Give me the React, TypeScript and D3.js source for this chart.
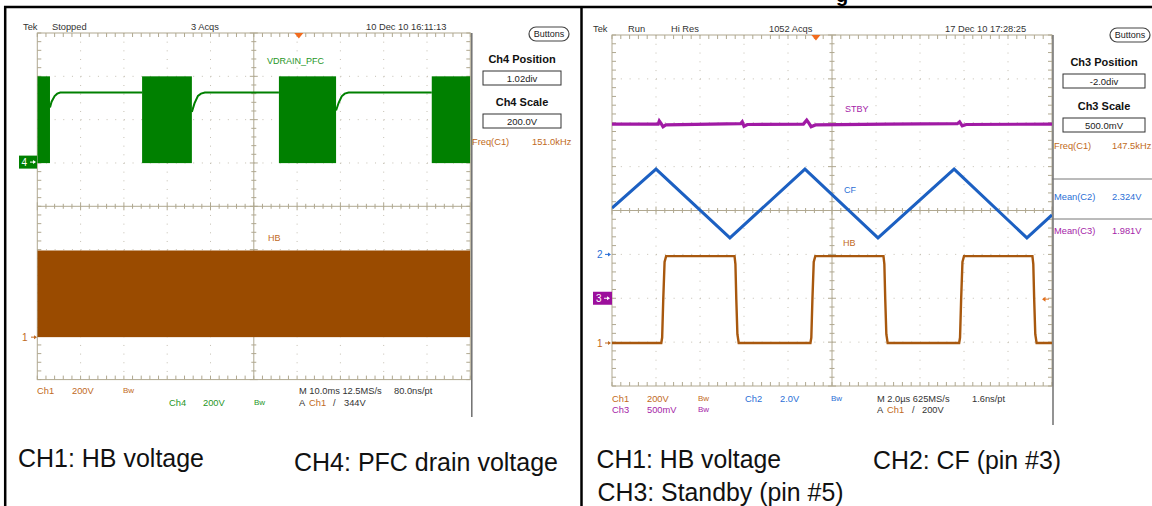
import React from 'react';
import * as d3 from 'd3';

// ---------------- Left scope (10 ms/div) ----------------
const leftTimeDomain: [number, number] = [0, 100]; // ms
const leftTrigTime = 60.4; // ms
const ch4Scale = 200; // V/div
const ch4Pos = 1.02; // div
const ch1ScaleL = 200; // V/div
const ch1PosL = -3.02; // div
// PFC drain switching bursts [start ms, end ms]
const ch4Bursts: [number, number][] = [[0, 2.93], [24.2, 35.7], [55.8, 69.0], [91.1, 100]];
const ch4BurstVolts: [number, number] = [0, 396];
// PFC drain voltage between bursts [ms, V]
const ch4Idle1: [number, number][] = [[2.93, 252], [3.3, 279], [4.0, 305], [4.6, 316], [5.3, 321], [24.2, 321]];
const ch4Idle2: [number, number][] = [[35.7, 232], [36.3, 271], [37.1, 306], [37.8, 316], [38.7, 321], [55.8, 321]];
const ch4Idle3: [number, number][] = [[69.0, 238], [69.6, 274], [70.3, 304], [71.0, 316], [71.9, 321], [91.1, 321]];
// HB voltage envelope (switching fills the band)
const ch1BandTime: [number, number] = [0, 100];
const ch1BandVolts: [number, number] = [0, 400];

// ---------------- Right scope (2 us/div) ----------------
const rightTimeDomain: [number, number] = [0, 20]; // us
const rightTrigTime = 9.27;
const ch1ScaleR = 200, ch1PosR = -3.02;
const ch2Scale = 2.0, ch2Pos = -1.0;
const ch3Scale = 0.5, ch3Pos = -2.0;
const trigLevelR = 200; // V on Ch1
const hbWave: [number, number][] = [
  [0, 0], [2.24, 0], [2.28, 25], [2.33, 200], [2.39, 370], [2.46, 396],
  [5.57, 396], [5.61, 360], [5.65, 200], [5.70, 40], [5.76, 0],
  [9.02, 0], [9.06, 25], [9.11, 200], [9.17, 370], [9.24, 396],
  [12.34, 396], [12.38, 360], [12.42, 200], [12.47, 40], [12.53, 0],
  [15.78, 0], [15.82, 25], [15.87, 200], [15.93, 370], [16.0, 396],
  [19.11, 396], [19.15, 360], [19.19, 200], [19.24, 40], [19.30, 0],
  [20, 0],
];
const cfWave: [number, number][] = [
  [0, 2.11], [2.0, 3.89], [5.36, 0.75], [8.77, 3.89], [12.09, 0.75], [15.55, 3.89], [18.86, 0.75], [20, 1.80],
];
const stbyWave: [number, number][] = [
  [0, 1.985], [2.1, 1.985], [2.15, 2.02], [2.22, 1.995], [2.32, 1.955], [2.45, 1.975], [4.5, 1.985],
  [5.85, 1.99], [5.92, 2.01], [6.0, 1.96], [6.15, 1.98], [8.7, 1.985], [8.85, 2.03], [8.95, 1.995],
  [9.05, 1.955], [9.25, 1.975], [12.5, 1.985], [15.7, 1.99], [15.8, 2.01], [15.92, 1.965], [16.1, 1.98], [20, 1.985],
];

// ---------------- Texts ----------------
const leftHeader = { tek: 'Tek', state: 'Stopped', acqs: '3 Acqs', date: '10 Dec 10 16:11:13' };
const rightHeader = { tek: 'Tek', state: 'Run', mode: 'Hi Res', acqs: '1052 Acqs', date: '17 Dec 10 17:28:25' };
const leftCaptions = ['CH1: HB voltage', 'CH4: PFC drain voltage'];
const rightCaptions = ['CH1: HB voltage', 'CH2: CF (pin #3)', 'CH3: Standby (pin #5)'];

const FONT = "'Liberation Sans', Arial, Helvetica, sans-serif";
const GRID = '#b0a890';
const DOT = '#c4bfb2';
const BROWN_T = '#bf6a22';
const GREEN_T = '#1f961f';
const BLUE_T = '#2a6fd6';
const PURPLE_T = '#a524a8';

type Geo = { x0: number; x1: number; y0: number; y1: number };

function Graticule({ g }: { g: Geo }) {
  const gx = d3.scaleLinear().domain([0, 10]).range([g.x0, g.x1]);
  const gy = d3.scaleLinear().domain([-4, 4]).range([g.y1, g.y0]);
  const cx = gx(5), cy = gy(0);
  const stepX = (g.x1 - g.x0) / 50;
  const stepY = (g.y1 - g.y0) / 40;
  const els: React.ReactNode[] = [];
  d3.range(1, 10).filter((i) => i !== 5).forEach((i) => {
    els.push(<line key={'dv' + i} x1={gx(i)} x2={gx(i)} y1={g.y0} y2={g.y1} stroke={DOT} strokeWidth={1} strokeDasharray={`1 ${stepY - 1}`} />);
  });
  d3.range(-3, 4).filter((j) => j !== 0).forEach((j) => {
    els.push(<line key={'dh' + j} x1={g.x0} x2={g.x1} y1={gy(j)} y2={gy(j)} stroke={DOT} strokeWidth={1} strokeDasharray={`1 ${stepX - 1}`} />);
  });
  d3.range(0, 51).forEach((k) => {
    const x = gx(k / 5);
    const major = k % 5 === 0;
    els.push(<line key={'tt' + k} x1={x} x2={x} y1={g.y0} y2={g.y0 + 4} stroke={GRID} />);
    els.push(<line key={'tb' + k} x1={x} x2={x} y1={g.y1} y2={g.y1 - 4} stroke={GRID} />);
    els.push(<line key={'tc' + k} x1={x} x2={x} y1={cy - (major ? 4 : 2.5)} y2={cy + (major ? 4 : 2.5)} stroke={GRID} />);
  });
  d3.range(0, 41).forEach((k) => {
    const y = gy(-4 + k / 5);
    const major = k % 5 === 0;
    els.push(<line key={'tl' + k} x1={g.x0} x2={g.x0 + 4} y1={y} y2={y} stroke={GRID} />);
    els.push(<line key={'tr' + k} x1={g.x1} x2={g.x1 - 4} y1={y} y2={y} stroke={GRID} />);
    els.push(<line key={'tm' + k} x1={cx - (major ? 4 : 2.5)} x2={cx + (major ? 4 : 2.5)} y1={y} y2={y} stroke={GRID} />);
  });
  els.push(<line key="ch" x1={g.x0} x2={g.x1} y1={cy} y2={cy} stroke={GRID} />);
  els.push(<line key="cv" x1={cx} x2={cx} y1={g.y0} y2={g.y1} stroke={GRID} />);
  els.push(<rect key="bd" x={g.x0} y={g.y0} width={g.x1 - g.x0} height={g.y1 - g.y0} fill="none" stroke={GRID} />);
  return <g>{els}</g>;
}

function T({ x, y, c = '#333', s = 9.5, w, a, children }: any) {
  return (
    <text x={x} y={y} fill={c} fontSize={s} fontWeight={w} textAnchor={a} fontFamily={FONT}>{children}</text>
  );
}

function Arrow({ x, y, c }: { x: number; y: number; c: string }) {
  return (
    <g>
      <line x1={x - 6} x2={x - 1} y1={y} y2={y} stroke={c} strokeWidth={1} />
      <path d={`M${x},${y} L${x - 3},${y - 2} L${x - 3},${y + 2} Z`} fill={c} />
    </g>
  );
}

function SideBox({ cx, y, w, label, value }: { cx: number; y: number; w: number; label: string; value: string }) {
  return (
    <g>
      <T x={cx} y={y} c="#111" s={11} w="bold" a="middle">{label}</T>
      <rect x={cx - w / 2} y={y + 8} width={w} height={14} fill="#fff" stroke="#333" strokeWidth={1} />
      <T x={cx} y={y + 18.5} c="#222" s={9.5} a="middle">{value}</T>
    </g>
  );
}

function Buttons({ x, y }: { x: number; y: number }) {
  return (
    <g>
      <rect x={x} y={y} width={40} height={14} rx={7} fill="#fff" stroke="#444" strokeWidth={1.2} />
      <T x={x + 20} y={y + 10} c="#222" s={9} a="middle">Buttons</T>
    </g>
  );
}

export default function App() {
  // ---------- left geometry ----------
  const GL: Geo = { x0: 37.3, x1: 470.3, y0: 33, y1: 379.6 };
  const xL = d3.scaleLinear().domain(leftTimeDomain).range([GL.x0, GL.x1]);
  const dL = d3.scaleLinear().domain([-4, 4]).range([GL.y1, GL.y0]);
  const yCh4 = (v: number) => dL(v / ch4Scale + ch4Pos);
  const yCh1L = (v: number) => dL(v / ch1ScaleL + ch1PosL);
  const lineL = d3.line<[number, number]>().x((d) => xL(d[0])).y((d) => yCh4(d[1]));

  // ---------- right geometry ----------
  const GR: Geo = { x0: 612, x1: 1052, y0: 35, y1: 386 };
  const xR = d3.scaleLinear().domain(rightTimeDomain).range([GR.x0, GR.x1]);
  const dR = d3.scaleLinear().domain([-4, 4]).range([GR.y1, GR.y0]);
  const yCh1R = (v: number) => dR(v / ch1ScaleR + ch1PosR);
  const yCh2 = (v: number) => dR(v / ch2Scale + ch2Pos);
  const yCh3 = (v: number) => dR(v / ch3Scale + ch3Pos);
  const hbLine = d3.line<[number, number]>().x((d) => xR(d[0])).y((d) => yCh1R(d[1]));
  const cfLine = d3.line<[number, number]>().x((d) => xR(d[0])).y((d) => yCh2(d[1]));
  const stLine = d3.line<[number, number]>().x((d) => xR(d[0])).y((d) => yCh3(d[1]));

  const trigL = xL(leftTrigTime);
  const trigR = xR(rightTrigTime);

  return (
    <svg width={1152} height={506} style={{ position: 'absolute', left: 0, top: 0, background: '#fff' }} fontFamily={FONT}>
      <defs>
        <clipPath id="clipL"><rect x={GL.x0} y={GL.y0} width={GL.x1 - GL.x0} height={GL.y1 - GL.y0} /></clipPath>
        <clipPath id="clipR"><rect x={GR.x0} y={GR.y0} width={GR.x1 - GR.x0} height={GR.y1 - GR.y0} /></clipPath>
      </defs>
      <rect x={0} y={0} width={1152} height={506} fill="#fff" />
      {/* cut-off title (only its descender shows in the reference) */}
      <text x={836} y={2} fontSize={20} fontWeight="bold" fill="#000" fontFamily={FONT}>g</text>

      {/* ================= LEFT SCOPE ================= */}
      <Graticule g={GL} />
      <g clipPath="url(#clipL)">
        <rect x={xL(ch1BandTime[0])} y={yCh1L(ch1BandVolts[1])} width={xL(ch1BandTime[1]) - xL(ch1BandTime[0])}
          height={yCh1L(ch1BandVolts[0]) - yCh1L(ch1BandVolts[1])} fill="#9a4b00" />
        {ch4Bursts.map((b, i) => (
          <rect key={i} x={xL(b[0])} y={yCh4(ch4BurstVolts[1])} width={xL(b[1]) - xL(b[0])}
            height={yCh4(ch4BurstVolts[0]) - yCh4(ch4BurstVolts[1]) + 1} fill="#008000" />
        ))}
        {[ch4Idle1, ch4Idle2, ch4Idle3].map((s, i) => (
          <path key={i} d={lineL(s) || ''} fill="none" stroke="#008000" strokeWidth={2} />
        ))}
      </g>
      <line x1={GL.x1 + 1.5} x2={GL.x1 + 1.5} y1={GL.y0} y2={417} stroke="#6f6f6f" strokeWidth={1.5} />
      {/* trigger position */}
      <path d={`M${trigL - 4.5},${GL.y0} L${trigL + 4.5},${GL.y0} L${trigL},${GL.y0 + 5.5} Z`} fill="#f26b1d" />
      {/* channel markers */}
      <rect x={19} y={yCh4(0) - 6.5} width={18} height={13} fill="#008000" />
      <T x={21.5} y={yCh4(0) + 3.5} c="#fff" s={10}>4</T>
      <Arrow x={36} y={yCh4(0)} c="#fff" />
      <T x={22} y={yCh1L(0) + 3.5} c={BROWN_T} s={10}>1</T>
      <Arrow x={37} y={yCh1L(0)} c={BROWN_T} />
      {/* trace labels */}
      <T x={267} y={64} c={GREEN_T} s={9}>VDRAIN_PFC</T>
      <T x={268} y={240.5} c={BROWN_T} s={9}>HB</T>
      {/* header */}
      <T x={23} y={30} s={9.3}>{leftHeader.tek}</T>
      <T x={52} y={30} s={9.3}>{leftHeader.state}</T>
      <T x={191} y={30} s={9.3}>{leftHeader.acqs}</T>
      <T x={366} y={30} s={9.3}>{leftHeader.date}</T>
      {/* side panel */}
      <Buttons x={529} y={27} />
      <SideBox cx={522} y={63} w={78} label="Ch4 Position" value="1.02div" />
      <SideBox cx={522} y={106} w={78} label="Ch4 Scale" value="200.0V" />
      <T x={472} y={145} c={BROWN_T} s={9.3}>Freq(C1)</T>
      <T x={532} y={145} c={BROWN_T} s={9.3}>151.0kHz</T>
      {/* status */}
      <T x={37} y={393.5} c={BROWN_T} s={9.3}>Ch1</T>
      <T x={72} y={393.5} c={BROWN_T} s={9.3}>200V</T>
      <T x={123} y={392.5} c={BROWN_T} s={8}>Bw</T>
      <T x={169} y={406} c={GREEN_T} s={9.3}>Ch4</T>
      <T x={203} y={406} c={GREEN_T} s={9.3}>200V</T>
      <T x={254} y={405} c={GREEN_T} s={8}>Bw</T>
      <T x={299} y={393.5} s={9.3}>M 10.0ms 12.5MS/s</T>
      <T x={394} y={393.5} s={9.3}>80.0ns/pt</T>
      <T x={299} y={406} s={9.3}>A</T>
      <T x={309} y={406} c={BROWN_T} s={9.3}>Ch1</T>
      <T x={333} y={406} s={9.3}>/</T>
      <T x={344} y={406} s={9.3}>344V</T>
      {/* captions */}
      <text x={18} y={467} fontSize={26.5} fill="#111" textLength={186} lengthAdjust="spacingAndGlyphs" fontFamily={FONT}>{leftCaptions[0]}</text>
      <text x={294} y={471} fontSize={26.5} fill="#111" textLength={264} lengthAdjust="spacingAndGlyphs" fontFamily={FONT}>{leftCaptions[1]}</text>

      {/* ================= RIGHT SCOPE ================= */}
      <Graticule g={GR} />
      <g clipPath="url(#clipR)">
        <path d={stLine(stbyWave) || ''} fill="none" stroke="#a01aa4" strokeWidth={3.2} />
        <path d={cfLine(cfWave) || ''} fill="none" stroke="#1c60c2" strokeWidth={3} strokeLinejoin="miter" />
        <path d={hbLine(hbWave) || ''} fill="none" stroke="#a8580e" strokeWidth={2.4} />
      </g>
      <line x1={GR.x1 + 1} x2={GR.x1 + 1} y1={GR.y0} y2={425} stroke="#6f6f6f" strokeWidth={1.5} />
      <path d={`M${trigR - 4.5},${GR.y0} L${trigR + 4.5},${GR.y0} L${trigR},${GR.y0 + 5.5} Z`} fill="#f26b1d" />
      {/* trigger level */}
      <g>
        <line x1={GR.x1 - 9} x2={GR.x1 - 3} y1={yCh1R(trigLevelR)} y2={yCh1R(trigLevelR)} stroke="#e0701e" strokeWidth={1} />
        <path d={`M${GR.x1 - 10},${yCh1R(trigLevelR)} L${GR.x1 - 6.5},${yCh1R(trigLevelR) - 2.5} L${GR.x1 - 6.5},${yCh1R(trigLevelR) + 2.5} Z`} fill="#e0701e" />
      </g>
      {/* markers */}
      <T x={597} y={yCh2(0) + 3.5} c={BLUE_T} s={10}>2</T>
      <Arrow x={611} y={yCh2(0)} c={BLUE_T} />
      <rect x={593} y={yCh3(0) - 6.5} width={19} height={13} fill="#9c0f9c" />
      <T x={596} y={yCh3(0) + 3.5} c="#fff" s={10}>3</T>
      <Arrow x={610} y={yCh3(0)} c="#fff" />
      <T x={597} y={yCh1R(0) + 3.5} c={BROWN_T} s={10}>1</T>
      <Arrow x={611} y={yCh1R(0)} c={BROWN_T} />
      {/* trace labels */}
      <T x={845} y={112} c={PURPLE_T} s={9}>STBY</T>
      <T x={844} y={193} c={BLUE_T} s={9}>CF</T>
      <T x={843} y={245.5} c={BROWN_T} s={9}>HB</T>
      {/* header */}
      <T x={593} y={32} s={9.3}>{rightHeader.tek}</T>
      <T x={628} y={32} s={9.3}>{rightHeader.state}</T>
      <T x={671} y={32} s={9.3}>{rightHeader.mode}</T>
      <T x={769} y={32} s={9.3}>{rightHeader.acqs}</T>
      <T x={945} y={32} s={9.3}>{rightHeader.date}</T>
      {/* side panel */}
      <Buttons x={1110} y={28} />
      <SideBox cx={1104} y={66} w={82} label="Ch3 Position" value="-2.0div" />
      <SideBox cx={1104} y={110} w={82} label="Ch3 Scale" value="500.0mV" />
      <T x={1054} y={149} c={BROWN_T} s={9.3}>Freq(C1)</T>
      <T x={1112} y={149} c={BROWN_T} s={9.3}>147.5kHz</T>
      <line x1={GR.x1} x2={1152} y1={179} y2={179} stroke="#777" strokeWidth={1} />
      <T x={1054} y={199.5} c={BLUE_T} s={9.3}>Mean(C2)</T>
      <T x={1112} y={199.5} c={BLUE_T} s={9.3}>2.324V</T>
      <line x1={GR.x1} x2={1152} y1={219} y2={219} stroke="#777" strokeWidth={1} />
      <T x={1054} y={233.5} c={PURPLE_T} s={9.3}>Mean(C3)</T>
      <T x={1112} y={233.5} c={PURPLE_T} s={9.3}>1.981V</T>
      {/* status */}
      <T x={612} y={401.5} c={BROWN_T} s={9.3}>Ch1</T>
      <T x={647} y={401.5} c={BROWN_T} s={9.3}>200V</T>
      <T x={698} y={400.5} c={BROWN_T} s={8}>Bw</T>
      <T x={745} y={401.5} c={BLUE_T} s={9.3}>Ch2</T>
      <T x={780} y={401.5} c={BLUE_T} s={9.3}>2.0V</T>
      <T x={831} y={400.5} c={BLUE_T} s={8}>Bw</T>
      <T x={877} y={401.5} s={9.3}>M 2.0µs 625MS/s</T>
      <T x={972} y={401.5} s={9.3}>1.6ns/pt</T>
      <T x={612} y={412.5} c={PURPLE_T} s={9.3}>Ch3</T>
      <T x={647} y={412.5} c={PURPLE_T} s={9.3}>500mV</T>
      <T x={698} y={411.5} c={PURPLE_T} s={8}>Bw</T>
      <T x={877} y={412.5} s={9.3}>A</T>
      <T x={887} y={412.5} c={BROWN_T} s={9.3}>Ch1</T>
      <T x={912} y={412.5} s={9.3}>/</T>
      <T x={922} y={412.5} s={9.3}>200V</T>
      {/* captions */}
      <text x={596.5} y={468} fontSize={26.5} fill="#111" textLength={184.5} lengthAdjust="spacingAndGlyphs" fontFamily={FONT}>{rightCaptions[0]}</text>
      <text x={873} y={468.5} fontSize={26.5} fill="#111" textLength={188} lengthAdjust="spacingAndGlyphs" fontFamily={FONT}>{rightCaptions[1]}</text>
      <text x={597.5} y={500.5} fontSize={26} fill="#111" textLength={246} lengthAdjust="spacingAndGlyphs" fontFamily={FONT}>{rightCaptions[2]}</text>

      {/* outer frame */}
      <line x1={4} x2={1152} y1={7} y2={7} stroke="#000" strokeWidth={2.5} />
      <line x1={5.2} x2={5.2} y1={6} y2={506} stroke="#000" strokeWidth={2.5} />
      <line x1={581.5} x2={581.5} y1={6} y2={506} stroke="#000" strokeWidth={2.5} />
    </svg>
  );
}
